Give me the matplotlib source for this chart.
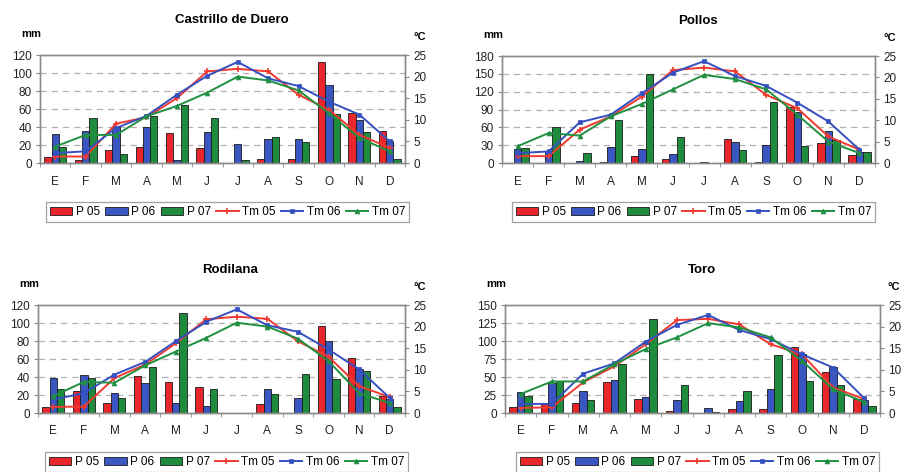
import matplotlib
matplotlib.use("Agg")
import matplotlib.pyplot as plt
import numpy as np
from matplotlib.patches import Patch
from matplotlib.lines import Line2D

plt.rcParams['font.family'] = ['Liberation Sans', 'DejaVu Sans']

months = ["E", "F", "M", "A", "M", "J", "J", "A", "S", "O", "N", "D"]
series_labels = ["P 05", "P 06", "P 07", "Tm 05", "Tm 06", "Tm 07"]

# Castrillo de Duero
cd_p05 = [7, 3, 14, 18, 33, 17, 0, 5, 4, 112, 56, 36]
cd_p06 = [32, 36, 40, 40, 3, 34, 21, 27, 27, 87, 48, 25]
cd_p07 = [18, 50, 10, 52, 65, 50, 3, 29, 23, 55, 34, 4]
cd_t05 = [1.5, 1.5, 9.1, 10.6, 15.0, 21.2, 21.8, 21.2, 15.8, 12.3, 6.5, 3.5]
cd_t06 = [2.3, 2.7, 8.1, 10.9, 15.8, 20.2, 23.4, 19.6, 17.8, 14.2, 11.2, 5.0]
cd_t07 = [3.8, 6.5, 6.5, 10.8, 13.2, 16.3, 20.0, 19.1, 16.8, 11.5, 5.8, 2.7]

# Pollos
po_p05 = [0, 0, 0, 2, 12, 7, 0, 40, 1, 95, 33, 13]
po_p06 = [24, 20, 4, 27, 24, 15, 1, 35, 31, 85, 54, 18]
po_p07 = [26, 60, 16, 72, 149, 44, 0, 22, 102, 28, 38, 18]
po_t05 = [1.6, 1.6, 7.8, 10.9, 15.5, 21.7, 22.3, 21.4, 15.9, 12.8, 6.2, 3.1]
po_t06 = [2.3, 2.7, 9.5, 11.3, 16.3, 21.1, 23.8, 20.3, 18.0, 14.1, 9.7, 3.1]
po_t07 = [3.9, 7.0, 6.4, 10.9, 13.8, 17.2, 20.6, 19.6, 17.2, 11.3, 5.0, 2.3]

# Rodilana
ro_p05 = [7, 25, 11, 41, 35, 29, 0, 10, 0, 97, 61, 19]
ro_p06 = [39, 42, 22, 33, 11, 8, 0, 27, 17, 80, 49, 16]
ro_p07 = [27, 39, 17, 51, 111, 27, 0, 21, 43, 38, 47, 7]
ro_t05 = [1.4, 1.5, 8.1, 11.2, 16.1, 21.7, 22.3, 21.8, 16.6, 13.0, 6.2, 3.7]
ro_t06 = [3.1, 4.6, 8.9, 11.8, 16.6, 21.1, 24.0, 20.3, 18.8, 14.7, 10.1, 3.5]
ro_t07 = [3.9, 7.2, 7.0, 11.0, 14.2, 17.4, 20.9, 20.0, 17.2, 12.0, 4.6, 2.3]

# Toro
to_p05 = [8, 12, 14, 43, 20, 3, 0, 6, 6, 92, 57, 20]
to_p06 = [29, 41, 31, 46, 22, 18, 7, 16, 34, 82, 64, 18]
to_p07 = [24, 45, 18, 68, 131, 39, 1, 30, 81, 44, 39, 10]
to_t05 = [1.2, 1.3, 7.1, 10.8, 15.9, 21.5, 21.8, 20.5, 15.9, 13.6, 5.9, 3.2]
to_t06 = [2.1, 2.1, 9.1, 11.5, 16.5, 20.4, 22.7, 19.2, 17.1, 13.6, 10.5, 3.4]
to_t07 = [4.4, 7.3, 7.3, 11.3, 14.8, 17.5, 20.8, 19.8, 17.5, 12.1, 5.5, 2.5]

titles = ["Castrillo de Duero", "Pollos", "Rodilana", "Toro"]
p_data = [(cd_p05, cd_p06, cd_p07), (po_p05, po_p06, po_p07),
          (ro_p05, ro_p06, ro_p07), (to_p05, to_p06, to_p07)]
t_data = [(cd_t05, cd_t06, cd_t07), (po_t05, po_t06, po_t07),
          (ro_t05, ro_t06, ro_t07), (to_t05, to_t06, to_t07)]
p_max = [120, 180, 120, 150]
p_step = [20, 30, 20, 25]

W, H = 901, 472
# pixel boxes: left, right, top, bottom
boxes = [(40, 405, 55, 163), (502, 875, 56, 163),
         (38, 405, 305, 413), (505, 880, 305, 413)]

bar_colors = ["#e8262b", "#3a56c0", "#1e8c3c"]
line_colors = ["#f03a30", "#3550c0", "#1f9040"]
markers = ["+", "s", "^"]

fig = plt.figure(figsize=(W / 100, H / 100), dpi=100)
x = np.arange(12)
bw = 0.24
fs = 8.5

for i in range(4):
    l, r, t, b = boxes[i]
    ax = fig.add_axes([l / W, 1 - b / H, (r - l) / W, (b - t) / H])
    ax2 = ax.twinx()
    for k in range(3):
        ax.bar(x + (k - 1) * bw, p_data[i][k], width=bw, color=bar_colors[k],
               edgecolor="#1a1a1a", linewidth=0.6, zorder=2)
    for k in range(3):
        ax2.plot(x, t_data[i][k], color=line_colors[k], lw=1.4,
                 marker=markers[k], ms=3.5 if k else 4.5, mew=1.2 if k == 0 else 0.5,
                 zorder=3)
    ax.set_xlim(-0.5, 11.5)
    ax.set_ylim(0, p_max[i])
    ax2.set_ylim(0, 25)
    ax.set_yticks(np.arange(0, p_max[i] + 1, p_step[i]))
    ax2.set_yticks(np.arange(0, 26, 5))
    for yv in np.arange(p_step[i], p_max[i], p_step[i]):
        ax.axhline(yv, color="#b0b0b0", lw=0.9, ls=(0, (5, 4)), zorder=1)
    ax.set_xticks(x)
    ax.set_xticklabels(months)
    ax.set_xticks(np.arange(-0.5, 12, 1), minor=True)
    ax.tick_params(axis="x", which="major", length=0, pad=9, labelsize=fs, colors="#222222")
    ax.tick_params(axis="x", which="minor", length=3, color="#888888")
    ax.tick_params(axis="y", length=3, color="#888888", labelsize=fs, pad=3, labelcolor="#222222")
    ax2.tick_params(axis="y", length=3, color="#888888", labelsize=fs, pad=3, labelcolor="#222222")
    for a in (ax, ax2):
        for s in a.spines.values():
            s.set_color("#8a8a8a")
            s.set_linewidth(1.0)
    cx = (l + r) / 2
    fig.text(cx / W + 0.01, 1 - (t - 35) / H, titles[i], ha="center", va="center",
             fontsize=9.5, fontweight="bold")
    fig.text((l - 19) / W, 1 - (t - 21) / H, "mm", ha="left", va="center",
             fontsize=8, fontweight="bold")
    fig.text((r + 8) / W, 1 - (t - 18) / H, "°C", ha="left", va="center",
             fontsize=8, fontweight="bold")
    handles = [Patch(facecolor=bar_colors[k], edgecolor="#1a1a1a", linewidth=0.6) for k in range(3)]
    handles += [Line2D([], [], color=line_colors[k], lw=1.4, marker=markers[k],
                       ms=3.5 if k else 4.5, mew=1.2 if k == 0 else 0.5) for k in range(3)]
    leg = fig.legend(handles, series_labels, loc="center",
                     bbox_to_anchor=((cx + 5) / W, 1 - (b + 49) / H), ncol=6,
                     fontsize=fs, frameon=True, fancybox=False, handlelength=1.9,
                     handleheight=0.7, handletextpad=0.3, columnspacing=0.45,
                     borderpad=0.35, borderaxespad=0)
    leg.get_frame().set_edgecolor("#8a8a8a")
    leg.get_frame().set_linewidth(0.9)

fig.savefig("out.png", dpi=100)
